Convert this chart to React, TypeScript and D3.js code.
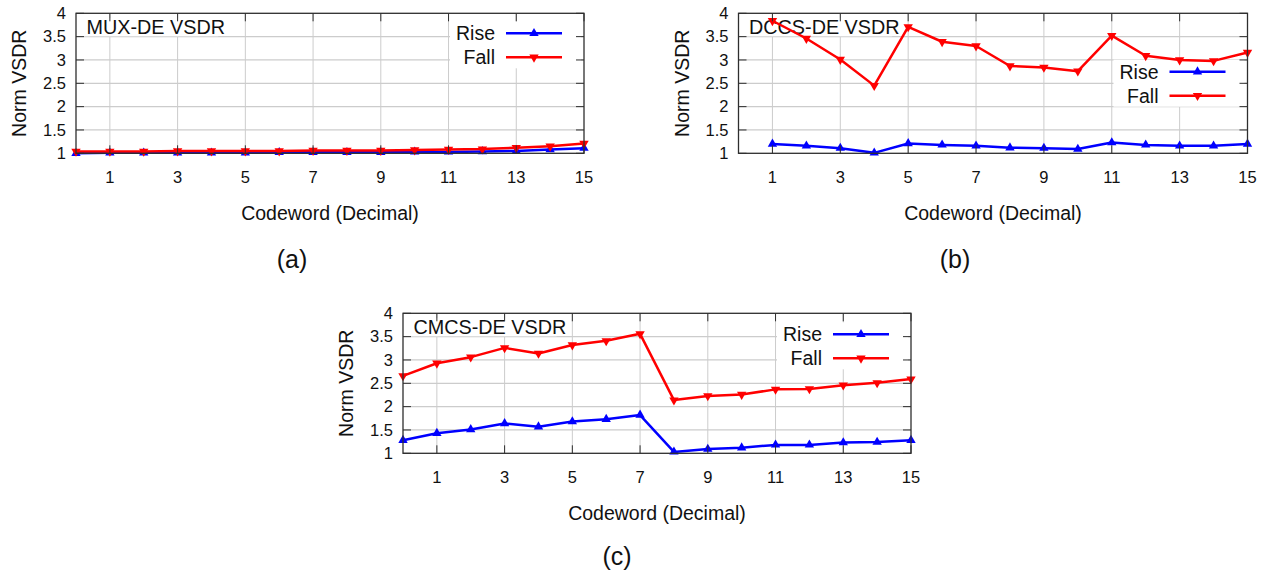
import React from "react";
import * as d3 from "d3";

// Codeword values on the x axis
const codesFull = [0, 1, 2, 3, 4, 5, 6, 7, 8, 9, 10, 11, 12, 13, 14, 15];
const codesFromOne = [1, 2, 3, 4, 5, 6, 7, 8, 9, 10, 11, 12, 13, 14, 15];

// MUX-DE normalised VSDR
const muxRise = [1.0, 1.01, 1.01, 1.01, 1.01, 1.01, 1.02, 1.02, 1.02, 1.02, 1.03, 1.03, 1.04, 1.05, 1.08, 1.11];
const muxFall = [1.04, 1.04, 1.04, 1.05, 1.05, 1.05, 1.05, 1.06, 1.06, 1.06, 1.07, 1.08, 1.09, 1.12, 1.15, 1.21];

// DCCS-DE normalised VSDR (codewords 1..15)
const dccsRise = [1.2, 1.16, 1.11, 1.01, 1.21, 1.18, 1.16, 1.12, 1.11, 1.09, 1.23, 1.18, 1.16, 1.16, 1.2];
const dccsFall = [3.84, 3.46, 3.01, 2.45, 3.71, 3.39, 3.3, 2.87, 2.84, 2.76, 3.52, 3.09, 3.0, 2.98, 3.16];

// CMCS-DE normalised VSDR
const cmcsRise = [1.28, 1.43, 1.51, 1.64, 1.57, 1.68, 1.73, 1.82, 1.03, 1.09, 1.12, 1.18, 1.18, 1.23, 1.24, 1.28];
const cmcsFall = [2.66, 2.93, 3.06, 3.26, 3.14, 3.32, 3.41, 3.56, 2.14, 2.23, 2.26, 2.37, 2.38, 2.46, 2.51, 2.59];

// Axis ticks
const xTicks = [1, 3, 5, 7, 9, 11, 13, 15];
const yTicks = [1, 1.5, 2, 2.5, 3, 3.5, 4];
const yTickLabels = ["1", "1.5", "2", "2.5", "3", "3.5", "4"];
const seriesNames = ["Rise", "Fall"];

const FONT = "'Liberation Sans', Arial, Helvetica, sans-serif";
const BLUE = "#0000ff";
const RED = "#ff0000";
const AXIS = "#2e2e2e";
const GRID = "#cccccc";

type PanelProps = {
  title: string;
  codes: number[];
  rise: number[];
  fall: number[];
  left: number;
  right: number;
  top: number;
  bottom: number;
  legendRow: number;
  caption: string;
  captionX: number;
  captionY: number;
};

const triUp = d3.symbol().type(d3.symbolTriangle).size(38)() as string;

function Panel(p: PanelProps) {
  const x = d3.scaleLinear().domain([0, 15]).range([p.left, p.right]);
  const y = d3.scaleLinear().domain([1, 4]).range([p.bottom, p.top]);
  const line = d3
    .line<number>()
    .x((_, i) => x(p.codes[i]))
    .y((v) => y(v));

  const tick = 8;
  const legendRow1 = p.top + p.legendRow;
  const legendRow2 = legendRow1 + 24;
  const titleWidth = p.title.length * 11.3;

  const series = [
    { name: seriesNames[0], values: p.rise, color: BLUE, rot: 0 },
    { name: seriesNames[1], values: p.fall, color: RED, rot: 180 },
  ];

  return (
    <g fontFamily={FONT}>
      {/* grid */}
      {xTicks
        .filter((t) => t < 15)
        .map((t) => (
          <line key={"gx" + t} x1={x(t)} x2={x(t)} y1={p.top} y2={p.bottom} stroke={GRID} strokeWidth={1} />
        ))}
      {yTicks
        .filter((t) => t > 1 && t < 4)
        .map((t) => (
          <line key={"gy" + t} x1={p.left} x2={p.right} y1={y(t)} y2={y(t)} stroke={GRID} strokeWidth={1.2} />
        ))}

      {/* title box and title */}
      <rect x={p.left + 4} y={p.top + 5} width={titleWidth + 14} height={18} fill="#fff" />
      <text x={p.left + 10.5} y={p.top + 20.5} fontSize={19.8} fill="#111">
        {p.title}
      </text>

      {/* legend box */}
      <rect x={p.right - 134} y={legendRow1 - 12} width={131} height={legendRow2 - legendRow1 + 23} fill="#fff" />

      {/* series lines and markers */}
      {series.map((s) => (
        <g key={s.name}>
          <path d={line(s.values) as string} fill="none" stroke={s.color} strokeWidth={2.5} strokeLinejoin="round" />
          {s.values.map((v, i) => (
            <path
              key={i}
              d={triUp}
              fill={s.color}
              transform={`translate(${x(p.codes[i])},${y(v)}) rotate(${s.rot})`}
            />
          ))}
        </g>
      ))}

      {/* legend entries */}
      {series.map((s, k) => {
        const ly = k === 0 ? legendRow1 : legendRow2;
        return (
          <g key={"lg" + s.name}>
            <text x={p.right - 89} y={ly} dy="0.35em" textAnchor="end" fontSize={19.5} fill="#111">
              {s.name}
            </text>
            <line x1={p.right - 78} x2={p.right - 22} y1={ly} y2={ly} stroke={s.color} strokeWidth={2.5} />
            <path d={triUp} fill={s.color} transform={`translate(${p.right - 50},${ly}) rotate(${s.rot})`} />
          </g>
        );
      })}

      {/* frame */}
      <rect x={p.left} y={p.top} width={p.right - p.left} height={p.bottom - p.top} fill="none" stroke={AXIS} strokeWidth={1.3} />

      {/* ticks */}
      {xTicks.map((t) => (
        <g key={"tx" + t}>
          <line x1={x(t)} x2={x(t)} y1={p.bottom} y2={p.bottom - tick} stroke={AXIS} strokeWidth={1} />
          <line x1={x(t)} x2={x(t)} y1={p.top} y2={p.top + tick} stroke={AXIS} strokeWidth={1} />
          <text x={x(t)} y={p.bottom + 30} textAnchor="middle" fontSize={16.5} fill="#111">
            {t}
          </text>
        </g>
      ))}
      {yTicks.map((t, i) => (
        <g key={"ty" + t}>
          <line x1={p.left} x2={p.left + tick} y1={y(t)} y2={y(t)} stroke={AXIS} strokeWidth={1} />
          <line x1={p.right} x2={p.right - tick} y1={y(t)} y2={y(t)} stroke={AXIS} strokeWidth={1} />
          <text x={p.left - 10} y={y(t)} dy="0.35em" textAnchor="end" fontSize={16.5} fill="#111">
            {yTickLabels[i]}
          </text>
        </g>
      ))}

      {/* axis titles */}
      <text
        transform={`translate(${p.left - 50},${(p.top + p.bottom) / 2}) rotate(-90)`}
        textAnchor="middle"
        fontSize={19.5}
        fill="#111"
      >
        Norm VSDR
      </text>
      <text x={(p.left + p.right) / 2} y={p.bottom + 67} textAnchor="middle" fontSize={19.5} fill="#111">
        Codeword (Decimal)
      </text>

      {/* sub-figure caption */}
      <text x={p.captionX} y={p.captionY} textAnchor="middle" fontSize={25} fill="#111">
        {p.caption}
      </text>
    </g>
  );
}

export default function App() {
  return (
    <svg
      width={1268}
      height={575}
      style={{ position: "absolute", left: 0, top: 0, background: "#fff" }}
    >
      <rect width={1268} height={575} fill="#fff" />
      <Panel
        title="MUX-DE VSDR"
        codes={codesFull}
        rise={muxRise}
        fall={muxFall}
        left={76}
        right={584}
        top={13.3}
        bottom={153.3}
        legendRow={20}
        caption="(a)"
        captionX={292}
        captionY={268}
      />
      <Panel
        title="DCCS-DE VSDR"
        codes={codesFromOne}
        rise={dccsRise}
        fall={dccsFall}
        left={738.5}
        right={1247.5}
        top={13.3}
        bottom={153.3}
        legendRow={58.4}
        caption="(b)"
        captionX={955}
        captionY={268}
      />
      <Panel
        title="CMCS-DE VSDR"
        codes={codesFull}
        rise={cmcsRise}
        fall={cmcsFall}
        left={403}
        right={911}
        top={313.3}
        bottom={453.3}
        legendRow={21}
        caption="(c)"
        captionX={617}
        captionY={565}
      />
    </svg>
  );
}
